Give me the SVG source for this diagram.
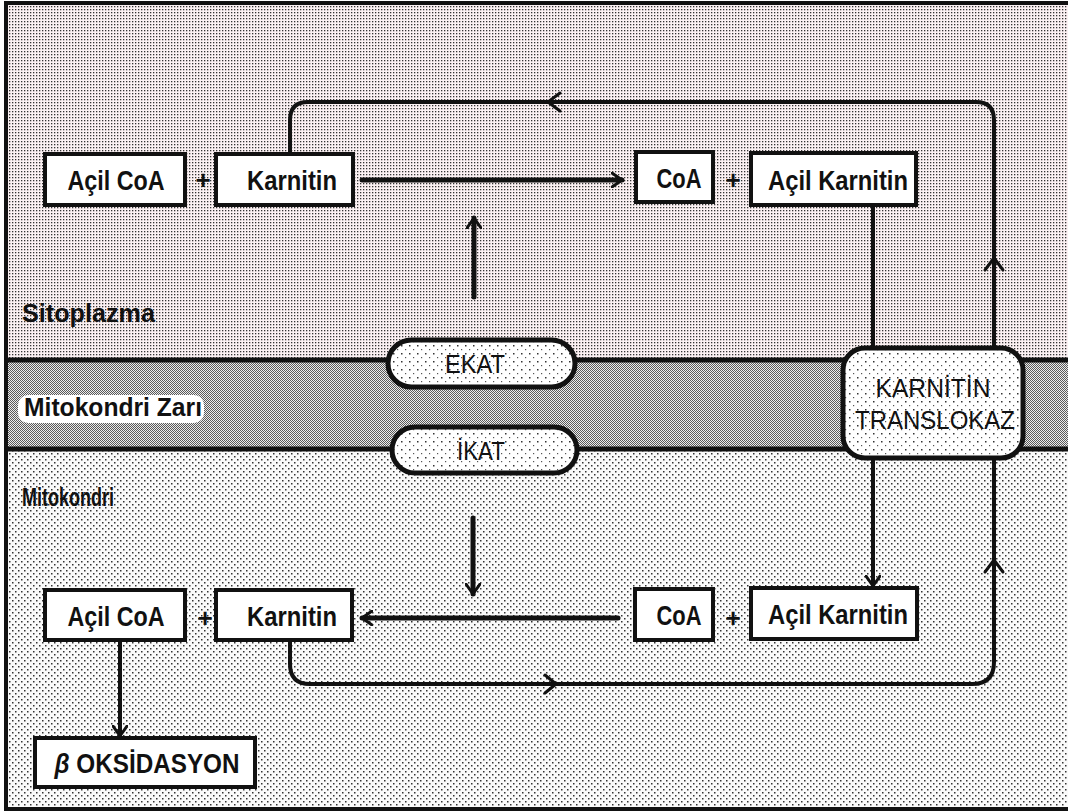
<svg xmlns="http://www.w3.org/2000/svg" width="1068" height="812" viewBox="0 0 1068 812">
<style>
.box{fill:#fff;stroke:#111;stroke-width:4}
.t{font-family:"Liberation Sans",Arial,sans-serif;font-weight:bold;font-size:27px;fill:#111;text-anchor:middle}
.lbl{font-family:"Liberation Sans",Arial,sans-serif;font-weight:bold;font-size:25px;fill:#111}
.pl{font-family:"Liberation Sans",Arial,sans-serif;font-weight:bold;font-size:26px;fill:#111;text-anchor:middle}
.en{font-family:"Liberation Sans",Arial,sans-serif;font-size:25px;fill:#111;text-anchor:middle}
.ln{fill:none;stroke:#111;stroke-width:4;stroke-linecap:round;stroke-linejoin:round}
.thick{stroke-width:5}
.chev{fill:none;stroke:#111;stroke-width:3;stroke-linecap:round;stroke-linejoin:round}
</style>
<defs>
<pattern id="cyto" width="3" height="3" patternUnits="userSpaceOnUse">
<rect width="3" height="3" fill="#fcf1f3"/>
<rect x="0" y="0" width="1.3" height="1.3" fill="#333"/>
</pattern>
<pattern id="mem" width="2" height="2" patternUnits="userSpaceOnUse">
<rect width="2" height="2" fill="#ececec"/>
<rect x="0" y="0" width="1" height="1" fill="#5a5a5a"/>
<rect x="1" y="1" width="1" height="1" fill="#5a5a5a"/>
</pattern>
<pattern id="mito" width="6" height="6" patternUnits="userSpaceOnUse">
<rect width="6" height="6" fill="#fafafa"/>
<rect x="0" y="0" width="1.5" height="1.5" fill="#333"/>
<rect x="3" y="3" width="1.5" height="1.5" fill="#333"/>
</pattern>
<pattern id="dots" width="8" height="8" patternUnits="userSpaceOnUse">
<rect width="8" height="8" fill="#fff"/>
<rect x="1" y="1" width="1.5" height="1.5" fill="#333"/>
<rect x="5" y="5" width="1.2" height="1.2" fill="#555"/>
</pattern>
<marker id="ah" viewBox="0 0 12 16" refX="11" refY="8" markerWidth="12" markerHeight="16" markerUnits="userSpaceOnUse" orient="auto">
<path d="M1,1 L11,8 L1,15" fill="none" stroke="#111" stroke-width="3" stroke-linecap="round" stroke-linejoin="round"/>
</marker>
</defs>

<g id="background">
<rect x="6" y="3" width="1062" height="358" fill="url(#cyto)"/>
<rect x="6" y="361" width="1062" height="88" fill="url(#mem)"/>
<rect x="6" y="449" width="1062" height="360" fill="url(#mito)"/>
<line x1="6" y1="360" x2="1068" y2="360" stroke="#111" stroke-width="5"/>
<line x1="6" y1="449" x2="1068" y2="449" stroke="#111" stroke-width="5"/>
<line x1="6" y1="3" x2="1068" y2="3" stroke="#111" stroke-width="4"/>
<line x1="6" y1="809" x2="1068" y2="809" stroke="#111" stroke-width="4"/>
<line x1="6" y1="1" x2="6" y2="811" stroke="#111" stroke-width="4"/>
</g>

<g id="region-labels">
<text class="lbl" x="22" y="322" textLength="133" lengthAdjust="spacingAndGlyphs" fill="#222">Sitoplazma</text>
<rect x="18" y="395" width="186" height="28" rx="10" fill="#fff"/>
<text class="lbl" x="24" y="416" textLength="178" lengthAdjust="spacingAndGlyphs">Mitokondri Zarı</text>
<text class="lbl" x="22" y="506" font-size="22" textLength="92" lengthAdjust="spacingAndGlyphs">Mitokondri</text>
</g>

<g id="connectors">
<line class="ln thick" x1="362" y1="180" x2="622" y2="180" marker-end="url(#ah)"/>
<line class="ln thick" x1="474" y1="297" x2="474" y2="218" marker-end="url(#ah)"/>
<path class="ln" d="M290,154 V120 Q290,102 308,102 H976 Q994,102 994,120 V348"/>
<path class="chev" d="M560,93 L548,102 L560,111"/>
<path class="chev" d="M985,270 L994,258 L1003,270"/>
<line class="ln" x1="873" y1="205" x2="873" y2="348"/>
<line class="ln" x1="873" y1="458" x2="873" y2="586" marker-end="url(#ah)"/>
<path class="ln" d="M994,458 V662 Q994,684 972,684 H310 Q290,684 290,664 V640"/>
<path class="chev" d="M985,572 L994,560 L1003,572"/>
<path class="chev" d="M545,675 L556,684 L545,693"/>
<line class="ln thick" x1="618" y1="618" x2="362" y2="618" marker-end="url(#ah)"/>
<line class="ln thick" x1="473" y1="518" x2="473" y2="594" marker-end="url(#ah)"/>
<line class="ln" x1="120" y1="640" x2="120" y2="736" marker-end="url(#ah)"/>
</g>

<g id="n-acilcoa-top">
<rect class="box" x="45" y="154" width="140" height="51"/>
<text class="t" x="116" y="190" textLength="97" lengthAdjust="spacingAndGlyphs">Açil CoA</text>
</g>
<text class="pl" x="203" y="189">+</text>
<g id="n-karnitin-top">
<rect class="box" x="216" y="154" width="137" height="51" stroke="#333" stroke-width="3"/>
<text class="t" x="292" y="190" textLength="90" lengthAdjust="spacingAndGlyphs">Karnitin</text>
</g>
<g id="n-coa-top">
<rect class="box" x="636" y="152" width="77" height="50"/>
<text class="t" x="679" y="188" textLength="45" lengthAdjust="spacingAndGlyphs">CoA</text>
</g>
<text class="pl" x="733" y="189">+</text>
<g id="n-acilkarnitin-top">
<rect class="box" x="751" y="153" width="165" height="52"/>
<text class="t" x="838" y="190" textLength="140" lengthAdjust="spacingAndGlyphs">Açil Karnitin</text>
</g>

<g id="n-ekat">
<rect x="388" y="340" width="187" height="47" rx="23.5" fill="url(#dots)" stroke="#111" stroke-width="5"/>
<text class="en" x="475" y="373" textLength="60" lengthAdjust="spacingAndGlyphs">EKAT</text>
</g>
<g id="n-ikat">
<rect x="392" y="427" width="185" height="46" rx="23" fill="url(#dots)" stroke="#111" stroke-width="5"/>
<text class="en" x="481" y="460" textLength="48" lengthAdjust="spacingAndGlyphs">İKAT</text>
</g>

<g id="n-translokaz">
<rect x="843" y="348" width="180" height="110" rx="22" fill="url(#dots)" stroke="#111" stroke-width="5"/>
<text class="en" x="933" y="397" textLength="115" lengthAdjust="spacingAndGlyphs">KARNİTİN</text>
<text class="en" x="935" y="429" textLength="160" lengthAdjust="spacingAndGlyphs">TRANSLOKAZ</text>
</g>

<g id="n-acilcoa-bottom">
<rect class="box" x="45" y="590" width="140" height="50"/>
<text class="t" x="116" y="626" textLength="97" lengthAdjust="spacingAndGlyphs">Açil CoA</text>
</g>
<text class="pl" x="205" y="627">+</text>
<g id="n-karnitin-bottom">
<rect class="box" x="216" y="590" width="136" height="50" stroke="#333" stroke-width="3"/>
<text class="t" x="292" y="626" textLength="90" lengthAdjust="spacingAndGlyphs">Karnitin</text>
</g>
<g id="n-coa-bottom">
<rect class="box" x="635" y="589" width="78" height="51"/>
<text class="t" x="679" y="625" textLength="45" lengthAdjust="spacingAndGlyphs">CoA</text>
</g>
<text class="pl" x="733" y="627">+</text>
<g id="n-acilkarnitin-bottom">
<rect class="box" x="751" y="588" width="166" height="51"/>
<text class="t" x="838" y="624" textLength="140" lengthAdjust="spacingAndGlyphs">Açil Karnitin</text>
</g>

<g id="n-betaoks">
<rect class="box" x="35" y="738" width="220" height="49" stroke-width="3"/>
<text class="t" x="147" y="773" textLength="185" lengthAdjust="spacingAndGlyphs"><tspan font-style="italic">β</tspan> OKSİDASYON</text>
</g>
</svg>
